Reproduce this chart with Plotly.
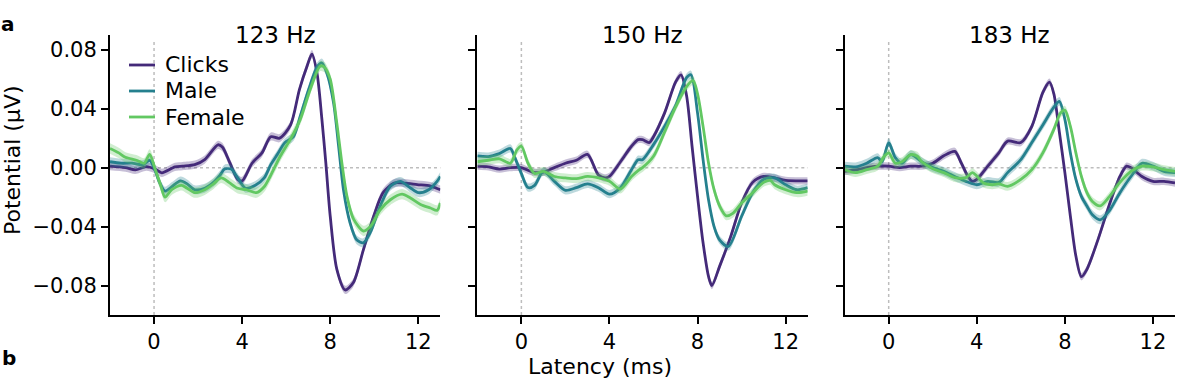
import numpy as np
import plotly.graph_objects as go
from plotly.subplots import make_subplots

# ---------------- data (latency in ms, potential in µV) ----------------
PANELS = ["123 Hz", "150 Hz", "183 Hz"]
SERIES = ["Clicks", "Male", "Female"]
COLORS = ["#442a79", "#25808e", "#62c862"]
X_TICKS = [0, 4, 8, 12]
Y_TICKS = [-0.08, -0.04, 0.0, 0.04, 0.08]
Y_TICK_TEXT = ["\u22120.08", "\u22120.04", "0.00", "0.04", "0.08"]

# 123 Hz
P123_CLICKS_T = [-2, -1.3, -0.85, -0.35, 0.05, 0.35, 0.95, 1.3, 1.85, 2.3, 2.9, 3.1, 3.45, 3.8, 4.0, 4.45, 4.9, 5.3, 5.7, 6.2, 6.6, 6.95, 7.17, 7.4, 7.62, 7.8, 8.0, 8.3, 8.68, 9.05, 9.5, 9.97, 10.4, 10.9, 11.35, 11.95, 12.55, 13]
P123_CLICKS_V = [0.001, 0.0, -0.0015, 0.0007, -0.001, -0.0035, 0.0005, 0.001, 0.002, 0.0055, 0.0155, 0.014, 0.003, -0.008, -0.009, 0.003, 0.010, 0.021, 0.020, 0.029, 0.053, 0.069, 0.077, 0.064, 0.033, 0.003, -0.033, -0.069, -0.083, -0.078, -0.056, -0.033, -0.017, -0.0105, -0.0105, -0.0115, -0.0125, -0.015]
P123_MALE_T = [-2, -1.5, -1, -0.5, -0.2, 0, 0.25, 0.5, 0.8, 1.2, 1.5, 1.85, 2.3, 2.7, 3.0, 3.2, 3.5, 3.8, 4.15, 4.6, 5.0, 5.3, 5.6, 5.95, 6.33, 6.64, 7.02, 7.39, 7.62, 7.85, 8.15, 8.38, 8.6, 8.9, 9.2, 9.5, 9.82, 10.27, 10.73, 11.18, 11.64, 12.0, 12.47, 12.85, 13]
P123_MALE_V = [0.004, 0.003, 0.003, 0.002, 0.005, 0.0, -0.010, -0.016, -0.013, -0.009, -0.011, -0.015, -0.014, -0.010, -0.005, -0.001, -0.001, -0.007, -0.014, -0.012, -0.007, 0.002, 0.009, 0.017, 0.021, 0.035, 0.053, 0.068, 0.071, 0.064, 0.044, 0.0145, -0.015, -0.0375, -0.049, -0.051, -0.044, -0.026, -0.0127, -0.0093, -0.0138, -0.017, -0.015, -0.0093, -0.006]
P123_FEMALE_T = [-2, -1.6, -1.3, -0.8, -0.45, -0.2, 0.05, 0.3, 0.5, 0.8, 1.25, 1.5, 1.85, 2.3, 2.7, 3.05, 3.4, 3.8, 4.2, 4.65, 5.0, 5.27, 5.73, 6.18, 6.64, 7.09, 7.55, 7.75, 8.0, 8.3, 8.53, 8.76, 9.06, 9.51, 9.82, 10.27, 10.73, 11.26, 11.64, 12.1, 12.55, 12.85, 13]
P123_FEMALE_V = [0.013, 0.010, 0.007, 0.005, 0.003, 0.009, -0.001, -0.012, -0.020, -0.015, -0.012, -0.014, -0.017, -0.015, -0.011, -0.007, -0.010, -0.014, -0.015, -0.017, -0.013, -0.006, 0.0077, 0.019, 0.0327, 0.053, 0.069, 0.068, 0.060, 0.030, 0.003, -0.0195, -0.035, -0.043, -0.040, -0.0286, -0.0218, -0.018, -0.0206, -0.025, -0.0274, -0.029, -0.024]

# 150 Hz
P150_CLICKS_T = [-2, -1.5, -1, -0.5, 0, 0.5, 1, 1.5, 2, 2.5, 3, 3.5, 3.8, 4.0, 4.5, 5.0, 5.3, 5.5, 5.8, 6.0, 6.5, 7.0, 7.25, 7.5, 7.75, 8.0, 8.25, 8.5, 8.65, 9.0, 9.5, 10, 10.5, 11, 11.5, 12, 13]
P150_CLICKS_V = [0.001, 0.0005, -0.001, 0.0, 0.0, -0.003, -0.003, 0.0, 0.003, 0.005, 0.009, -0.005, -0.007, -0.006, 0.004, 0.0145, 0.019, 0.019, 0.017, 0.021, 0.037, 0.058, 0.063, 0.049, 0.0145, -0.0195, -0.051, -0.074, -0.080, -0.067, -0.047, -0.024, -0.010, -0.006, -0.007, -0.0087, -0.009]
P150_MALE_T = [-2, -1.5, -1, -0.5, -0.3, 0, 0.3, 0.6, 1, 1.5, 2, 2.5, 3, 3.5, 4, 4.5, 5, 5.3, 5.5, 6, 6.5, 7, 7.5, 7.7, 8, 8.25, 8.5, 8.75, 9, 9.4, 10, 10.5, 11, 11.5, 12, 12.5, 13]
P150_MALE_V = [0.008, 0.0075, 0.0095, 0.013, 0.007, -0.004, -0.0135, -0.012, -0.0025, -0.0093, -0.0154, -0.0136, -0.011, -0.0136, -0.018, -0.0136, -0.0014, 0.0054, 0.0054, 0.0156, 0.028, 0.042, 0.061, 0.063, 0.037, 0.0054, -0.022, -0.040, -0.049, -0.0535, -0.033, -0.017, -0.008, -0.007, -0.0116, -0.015, -0.0136]
P150_FEMALE_T = [-2, -1.5, -1, -0.5, -0.2, 0, 0.3, 0.6, 1, 1.5, 2, 2.5, 3, 3.5, 4, 4.5, 5, 5.3, 5.5, 6, 6.5, 7, 7.5, 7.8, 8, 8.25, 8.5, 8.75, 9, 9.3, 9.6, 10, 10.5, 11, 11.3, 11.5, 12, 12.5, 13]
P150_FEMALE_V = [0.004, 0.005, 0.006, 0.003, 0.012, 0.0145, 0.003, -0.004, -0.0025, -0.006, -0.007, -0.0075, -0.006, -0.007, -0.0093, -0.0145, -0.006, -0.002, 0.0, 0.0077, 0.024, 0.041, 0.055, 0.059, 0.050, 0.028, 0.003, -0.015, -0.026, -0.0327, -0.031, -0.024, -0.017, -0.010, -0.0087, -0.0116, -0.015, -0.017, -0.016]

# 183 Hz
P183_CLICKS_T = [-2, -1.5, -1, -0.5, 0, 0.5, 1, 1.5, 2, 2.5, 3, 3.3, 3.6, 3.8, 4, 4.5, 5, 5.4, 6, 6.5, 7, 7.3, 7.5, 7.75, 8, 8.25, 8.5, 8.75, 9, 9.5, 10, 10.5, 10.8, 11, 11.5, 12, 12.5, 13]
P183_CLICKS_V = [-0.0025, -0.0016, 0.0, 0.001, 0.001, 0.0, 0.001, 0.001, 0.003, 0.008, 0.011, 0.003, -0.006, -0.0093, -0.008, 0.001, 0.010, 0.018, 0.017, 0.028, 0.051, 0.058, 0.050, 0.024, -0.0034, -0.033, -0.060, -0.074, -0.069, -0.049, -0.026, -0.006, 0.001, 0.0, -0.006, -0.0093, -0.0093, -0.0104]
P183_MALE_T = [-2, -1.5, -1, -0.5, -0.3, 0, 0.3, 0.6, 1, 1.5, 2, 2.5, 3, 3.5, 4, 4.5, 5, 5.4, 6, 6.5, 7, 7.5, 7.75, 8, 8.25, 8.5, 8.75, 9, 9.25, 9.6, 10, 10.5, 11, 11.5, 12, 12.5, 13]
P183_MALE_V = [0.001, 0.0005, 0.003, 0.0068, 0.004, 0.017, 0.0068, 0.003, 0.0088, 0.004, 0.0, -0.0025, -0.006, -0.0093, -0.0116, -0.0093, -0.010, -0.0034, 0.0054, 0.017, 0.029, 0.041, 0.045, 0.0327, 0.010, -0.008, -0.0195, -0.026, -0.032, -0.0354, -0.0297, -0.017, -0.006, 0.003, 0.001, -0.0025, -0.0034]
P183_FEMALE_T = [-2, -1.5, -1, -0.5, -0.2, 0, 0.3, 0.6, 1, 1.3, 1.5, 2, 2.5, 3, 3.5, 3.8, 4, 4.3, 4.7, 5, 5.4, 6, 6.5, 7, 7.5, 7.8, 8, 8.25, 8.5, 8.75, 9, 9.25, 9.6, 10, 10.5, 11, 11.5, 12, 12.5, 13]
P183_FEMALE_V = [-0.0014, -0.0034, -0.0014, 0.001, 0.0077, 0.010, 0.003, 0.004, 0.0088, 0.0077, 0.004, -0.0007, -0.0034, -0.0068, -0.0068, -0.0034, -0.0057, -0.0104, -0.0116, -0.011, -0.0127, -0.008, -0.0014, 0.010, 0.026, 0.037, 0.039, 0.028, 0.010, -0.006, -0.017, -0.023, -0.026, -0.020, -0.010, -0.0025, 0.001, 0.0005, -0.0014, -0.0025]

# standard-error half widths of the shaded bands (per panel: Clicks, Male, Female)
P123_SEM = [0.0028, 0.003, 0.0035]
P150_SEM = [0.0025, 0.0028, 0.003]
P183_SEM = [0.0025, 0.003, 0.003]

DATA = [
    [(P123_CLICKS_T, P123_CLICKS_V), (P123_MALE_T, P123_MALE_V), (P123_FEMALE_T, P123_FEMALE_V)],
    [(P150_CLICKS_T, P150_CLICKS_V), (P150_MALE_T, P150_MALE_V), (P150_FEMALE_T, P150_FEMALE_V)],
    [(P183_CLICKS_T, P183_CLICKS_V), (P183_MALE_T, P183_MALE_V), (P183_FEMALE_T, P183_FEMALE_V)],
]
SEMS = [P123_SEM, P150_SEM, P183_SEM]

FONT = "DejaVu Sans"
FS = 21
W, H = 1200, 381
ML, MR, MT, MB = 110, 25, 35, 66
PW = W - ML - MR
PH = H - MT - MB


def rgba(hex_color, a):
    h = hex_color.lstrip("#")
    r, g, b = int(h[0:2], 16), int(h[2:4], 16), int(h[4:6], 16)
    return f"rgba({r},{g},{b},{a})"


def px_x(px):  # page pixel -> paper x
    return (px - ML) / PW


def px_y(py):  # page pixel -> paper y
    return 1 - (py - MT) / PH


fig = make_subplots(rows=1, cols=3, horizontal_spacing=0.0347)

for p in range(3):
    col = p + 1
    for s in range(3):
        t = np.array(DATA[p][s][0], dtype=float)
        v = np.array(DATA[p][s][1], dtype=float)
        sem = SEMS[p][s]
        c = COLORS[s]
        fig.add_trace(go.Scatter(x=t, y=v + sem, mode="lines",
                                 line=dict(width=0, color=c, shape="spline", smoothing=0.8),
                                 hoverinfo="skip", showlegend=False), row=1, col=col)
        fig.add_trace(go.Scatter(x=t, y=v - sem, mode="lines",
                                 line=dict(width=0, color=c, shape="spline", smoothing=0.8),
                                 fill="tonexty", fillcolor=rgba(c, 0.3),
                                 hoverinfo="skip", showlegend=False), row=1, col=col)
        fig.add_trace(go.Scatter(x=t, y=v, mode="lines", name=SERIES[s],
                                 line=dict(width=2.8, color=c, shape="spline", smoothing=0.8),
                                 showlegend=False, legendgroup=SERIES[s]), row=1, col=col)

    sfx = "" if col == 1 else str(col)
    # dotted reference lines
    fig.add_shape(type="line", xref=f"x{sfx}", yref=f"y{sfx} domain",
                  x0=0, x1=0, y0=0, y1=0.985, layer="below",
                  line=dict(color="#bdbdbd", width=1.5, dash="dot"))
    fig.add_shape(type="line", xref=f"x{sfx} domain", yref=f"y{sfx}",
                  x0=0, x1=1, y0=0, y1=0, layer="below",
                  line=dict(color="#bdbdbd", width=1.5, dash="dot"))

    fig.update_xaxes(range=[-2, 13], tickvals=X_TICKS, ticks="outside", ticklen=7, tickwidth=2,
                     tickcolor="black", showline=True, linecolor="black", linewidth=2,
                     showgrid=False, zeroline=False, tickfont=dict(family=FONT, size=FS, color="black"),
                     row=1, col=col)
    fig.update_yaxes(range=[-0.1, 0.09], tickvals=Y_TICKS, ticktext=Y_TICK_TEXT,
                     ticks="outside", ticklen=7, tickwidth=2,
                     tickcolor="black", showline=True, linecolor="black", linewidth=2,
                     showgrid=False, zeroline=False, showticklabels=(p == 0),
                     tickfont=dict(family=FONT, size=FS, color="black"),
                     row=1, col=col)

# panel titles
for p in range(3):
    dom = fig.layout[f"xaxis{'' if p == 0 else p + 1}"].domain
    fig.add_annotation(x=(dom[0] + dom[1]) / 2, y=1.0, xref="paper", yref="paper",
                       text=PANELS[p], showarrow=False, xanchor="center", yanchor="middle",
                       font=dict(family=FONT, size=23, color="black"), yshift=0)

# legend (drawn inside the first panel)
LEG_Y = [65, 91, 117]
for s in range(3):
    fig.add_shape(type="line", xref="paper", yref="paper",
                  x0=px_x(129), x1=px_x(155), y0=px_y(LEG_Y[s]), y1=px_y(LEG_Y[s]),
                  line=dict(color=COLORS[s], width=2.8))
    fig.add_annotation(x=px_x(163), y=px_y(LEG_Y[s]), xref="paper", yref="paper",
                       text=SERIES[s], showarrow=False, xanchor="left", yanchor="middle",
                       font=dict(family=FONT, size=22, color="black"))

fig.add_annotation(x=px_x(600), y=px_y(366), xref="paper", yref="paper", text="Latency (ms)",
                   showarrow=False, yanchor="middle", xanchor="center",
                   font=dict(family=FONT, size=22, color="black"))
fig.add_annotation(x=px_x(12), y=px_y(160), xref="paper", yref="paper", text="Potential (\u00b5V)",
                   textangle=-90, showarrow=False, xanchor="center", yanchor="middle",
                   font=dict(family=FONT, size=22, color="black"))
fig.add_annotation(x=px_x(8), y=px_y(24), xref="paper", yref="paper", text="<b>a</b>",
                   xanchor="center", yanchor="middle",
                   showarrow=False, font=dict(family=FONT, size=20, color="black"))
fig.add_annotation(x=px_x(9), y=px_y(358), xref="paper", yref="paper", text="<b>b</b>",
                   xanchor="center", yanchor="middle",
                   showarrow=False, font=dict(family=FONT, size=20, color="black"))

fig.update_layout(
    width=W, height=H,
    margin=dict(l=ML, r=MR, t=MT, b=MB),
    paper_bgcolor="white", plot_bgcolor="white",
    font=dict(family=FONT, size=FS, color="black"),
    showlegend=False,
)

fig.write_html("out.html", config={"displayModeBar": False},
               post_script="document.body.style.margin='0';document.body.style.padding='0';")
